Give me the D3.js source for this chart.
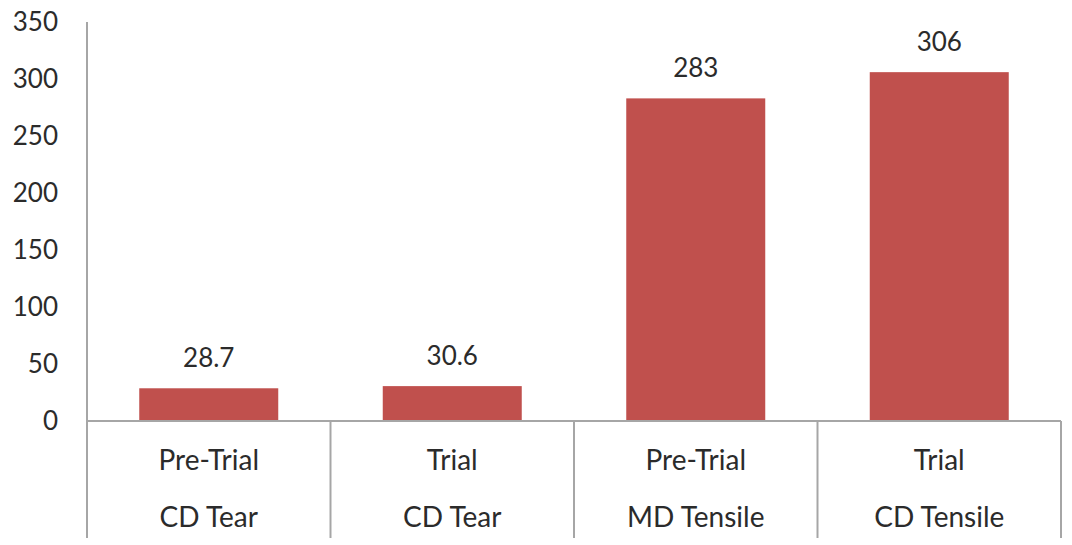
<!DOCTYPE html>
<html>
<head>
<meta charset="utf-8">
<script src="https://cdn.jsdelivr.net/npm/d3@7"></script>
<style>
  html, body { margin: 0; padding: 0; background: #fff; }
  svg text { font-family: Lato, "Open Sans", sans-serif; fill: #2b2b2b; }
</style>
</head>
<body>
<svg id="chart" width="1072" height="545"></svg>
<script>
// Test results by trial phase
const phases = ["Pre-Trial", "Trial", "Pre-Trial", "Trial"];
const tests = ["CD Tear", "CD Tear", "MD Tensile", "CD Tensile"];
const values = [28.7, 30.6, 283, 306];
const valueLabels = ["28.7", "30.6", "283", "306"];
const yTicks = [0, 50, 100, 150, 200, 250, 300, 350];

(function draw() {
  const svg = d3.select("#chart");
  const plotLeft = 87, plotRight = 1061, plotTop = 22, zeroY = 421, plotBottom = 538;

  const x = d3.scaleBand()
    .domain(d3.range(values.length))
    .range([plotLeft, plotRight])
    .paddingInner(0)
    .paddingOuter(0);

  const y = d3.scaleLinear().domain([0, 350]).range([zeroY, plotTop]);

  const lineColor = "#a6a6a6";

  // Y axis line (no tick marks)
  svg.append("line")
    .attr("x1", plotLeft).attr("x2", plotLeft)
    .attr("y1", plotTop).attr("y2", plotBottom)
    .attr("stroke", lineColor).attr("stroke-width", 2);

  // Y tick labels
  svg.append("g").selectAll("text")
    .data(yTicks)
    .join("text")
    .attr("x", 58)
    .attr("y", d => y(d))
    .attr("dy", "0.36em")
    .attr("text-anchor", "end")
    .attr("font-size", 26)
    .text(d => d);

  // Bars
  const barW = 139;
  svg.append("g").selectAll("rect")
    .data(values)
    .join("rect")
    .attr("x", (d, i) => x(i) + (x.bandwidth() - barW) / 2)
    .attr("width", barW)
    .attr("y", d => y(d))
    .attr("height", d => zeroY - y(d))
    .attr("fill", "#c0504d");

  // Baseline
  svg.append("line")
    .attr("x1", plotLeft).attr("x2", plotRight)
    .attr("y1", zeroY).attr("y2", zeroY)
    .attr("stroke", lineColor).attr("stroke-width", 2);

  // Category dividers
  svg.append("g").selectAll("line")
    .data(d3.range(1, values.length + 1))
    .join("line")
    .attr("x1", i => i < values.length ? x(i) : plotRight)
    .attr("x2", i => i < values.length ? x(i) : plotRight)
    .attr("y1", zeroY).attr("y2", plotBottom)
    .attr("stroke", lineColor).attr("stroke-width", 2);

  // Value labels
  svg.append("g").selectAll("text")
    .data(values)
    .join("text")
    .attr("x", (d, i) => x(i) + x.bandwidth() / 2)
    .attr("y", d => y(d) - 21)
    .attr("text-anchor", "middle")
    .attr("font-size", 26)
    .text((d, i) => valueLabels[i]);

  // Category labels (two rows)
  const cats = svg.append("g");
  cats.selectAll("text.phase")
    .data(phases)
    .join("text")
    .attr("class", "phase")
    .attr("x", (d, i) => x(i) + x.bandwidth() / 2)
    .attr("y", 470)
    .attr("text-anchor", "middle")
    .attr("font-size", 28)
    .text(d => d);
  cats.selectAll("text.test")
    .data(tests)
    .join("text")
    .attr("class", "test")
    .attr("x", (d, i) => x(i) + x.bandwidth() / 2)
    .attr("y", 527)
    .attr("text-anchor", "middle")
    .attr("font-size", 28)
    .text(d => d);
})();
</script>
</body>
</html>
